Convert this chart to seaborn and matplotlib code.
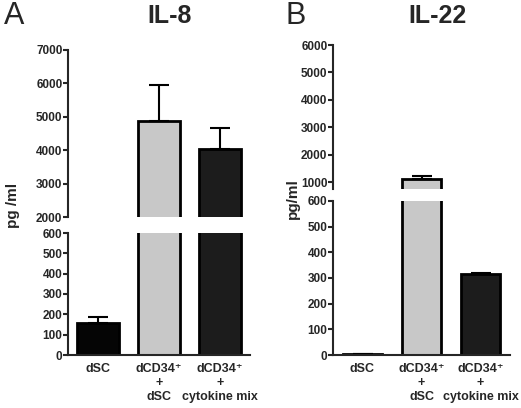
import numpy as np
import matplotlib
matplotlib.use("Agg")
import matplotlib.pyplot as plt
import seaborn as sns

sns.set_style("white")
plt.rcParams['font.family'] = ['Liberation Sans', 'DejaVu Sans']
plt.rcParams['font.weight'] = 'bold'

categories = ["dSC", "dCD34\u207a\n+\ndSC", "dCD34\u207a\n+\ncytokine mix"]
colors = ["#050505", "#c8c8c8", "#1c1c1c"]

il8_mean = [158, 4860, 4030]
il8_err = [28, 1090, 635]

il22_mean = [3, 1110, 314]
il22_err = [1, 95, 5]

upper_ticks_a = [2000, 3000, 4000, 5000, 6000, 7000]
upper_ticks_b = [1000, 2000, 3000, 4000, 5000, 6000]
lower_ticks = [0, 100, 200, 300, 400, 500, 600]

W, H = 521, 408
fig = plt.figure(figsize=(W / 100, H / 100), dpi=100)


def add_ax(left, right, top, bottom):
    return fig.add_axes([left / W, (H - bottom) / H, (right - left) / W, (bottom - top) / H])


def draw(ax, means, errs, width, ylim, ticks, show_x):
    sns.barplot(x=categories, y=means, hue=categories, palette=colors, edgecolor="black",
                linewidth=2, width=width, ax=ax, legend=False, saturation=1)
    ax.errorbar(np.arange(len(means)), means, yerr=[np.zeros(len(errs)), errs], fmt="none",
                ecolor="black", elinewidth=1.5, capsize=7, capthick=1.5, zorder=1)
    ax.set_xlim(-0.5, 2.5)
    ax.set_ylim(*ylim)
    ax.set_yticks(ticks)
    ax.set_yticklabels([str(t) for t in ticks], fontsize=8.5, fontweight="bold")
    ax.tick_params(axis="y", direction="out", length=3.5, width=1.5, left=True, pad=0.5)
    ax.tick_params(axis="x", length=0, pad=6)
    for s in ["top", "right"]:
        ax.spines[s].set_visible(False)
    ax.spines["left"].set_linewidth(1.5)
    ax.spines["bottom"].set_linewidth(1.5)
    if show_x:
        ax.set_xticks(range(3))
        ax.set_xticklabels(categories, fontsize=9, fontweight="bold", linespacing=1.2)
    else:
        ax.spines["bottom"].set_visible(False)
        ax.set_xticks([])
    ax.set_xlabel("")
    ax.set_ylabel("")


# Panel A
axAu = add_ax(68, 250, 50, 217)
axAl = add_ax(68, 250, 233, 355)
draw(axAu, il8_mean, il8_err, 0.69, (2000, 7000), upper_ticks_a, False)
draw(axAl, il8_mean, il8_err, 0.69, (0, 600), lower_ticks, True)

# Panel B
axBu = add_ax(333, 510, 45, 189)
axBl = add_ax(333, 510, 201, 355)
draw(axBu, il22_mean, il22_err, 0.66, (745, 6000), upper_ticks_b, False)
draw(axBl, il22_mean, il22_err, 0.66, (0, 600), lower_ticks, True)

fig.text(4 / W, 1 - 16 / H, "A", fontsize=22, fontweight="normal", va="center", ha="left")
fig.text(170 / W, 1 - 16 / H, "IL-8", fontsize=18, fontweight="bold", va="center", ha="center")
fig.text(285 / W, 1 - 16 / H, "B", fontsize=22, fontweight="normal", va="center", ha="left")
fig.text(437 / W, 1 - 16 / H, "IL-22", fontsize=18, fontweight="bold", va="center", ha="center")

fig.text(13 / W, 1 - 205 / H, "pg /ml", fontsize=11, fontweight="bold", rotation=90, va="center", ha="center")
fig.text(293 / W, 1 - 199 / H, "pg/ml", fontsize=11, fontweight="bold", rotation=90, va="center", ha="center")

fig.savefig("out.png", dpi=100, facecolor="white")
